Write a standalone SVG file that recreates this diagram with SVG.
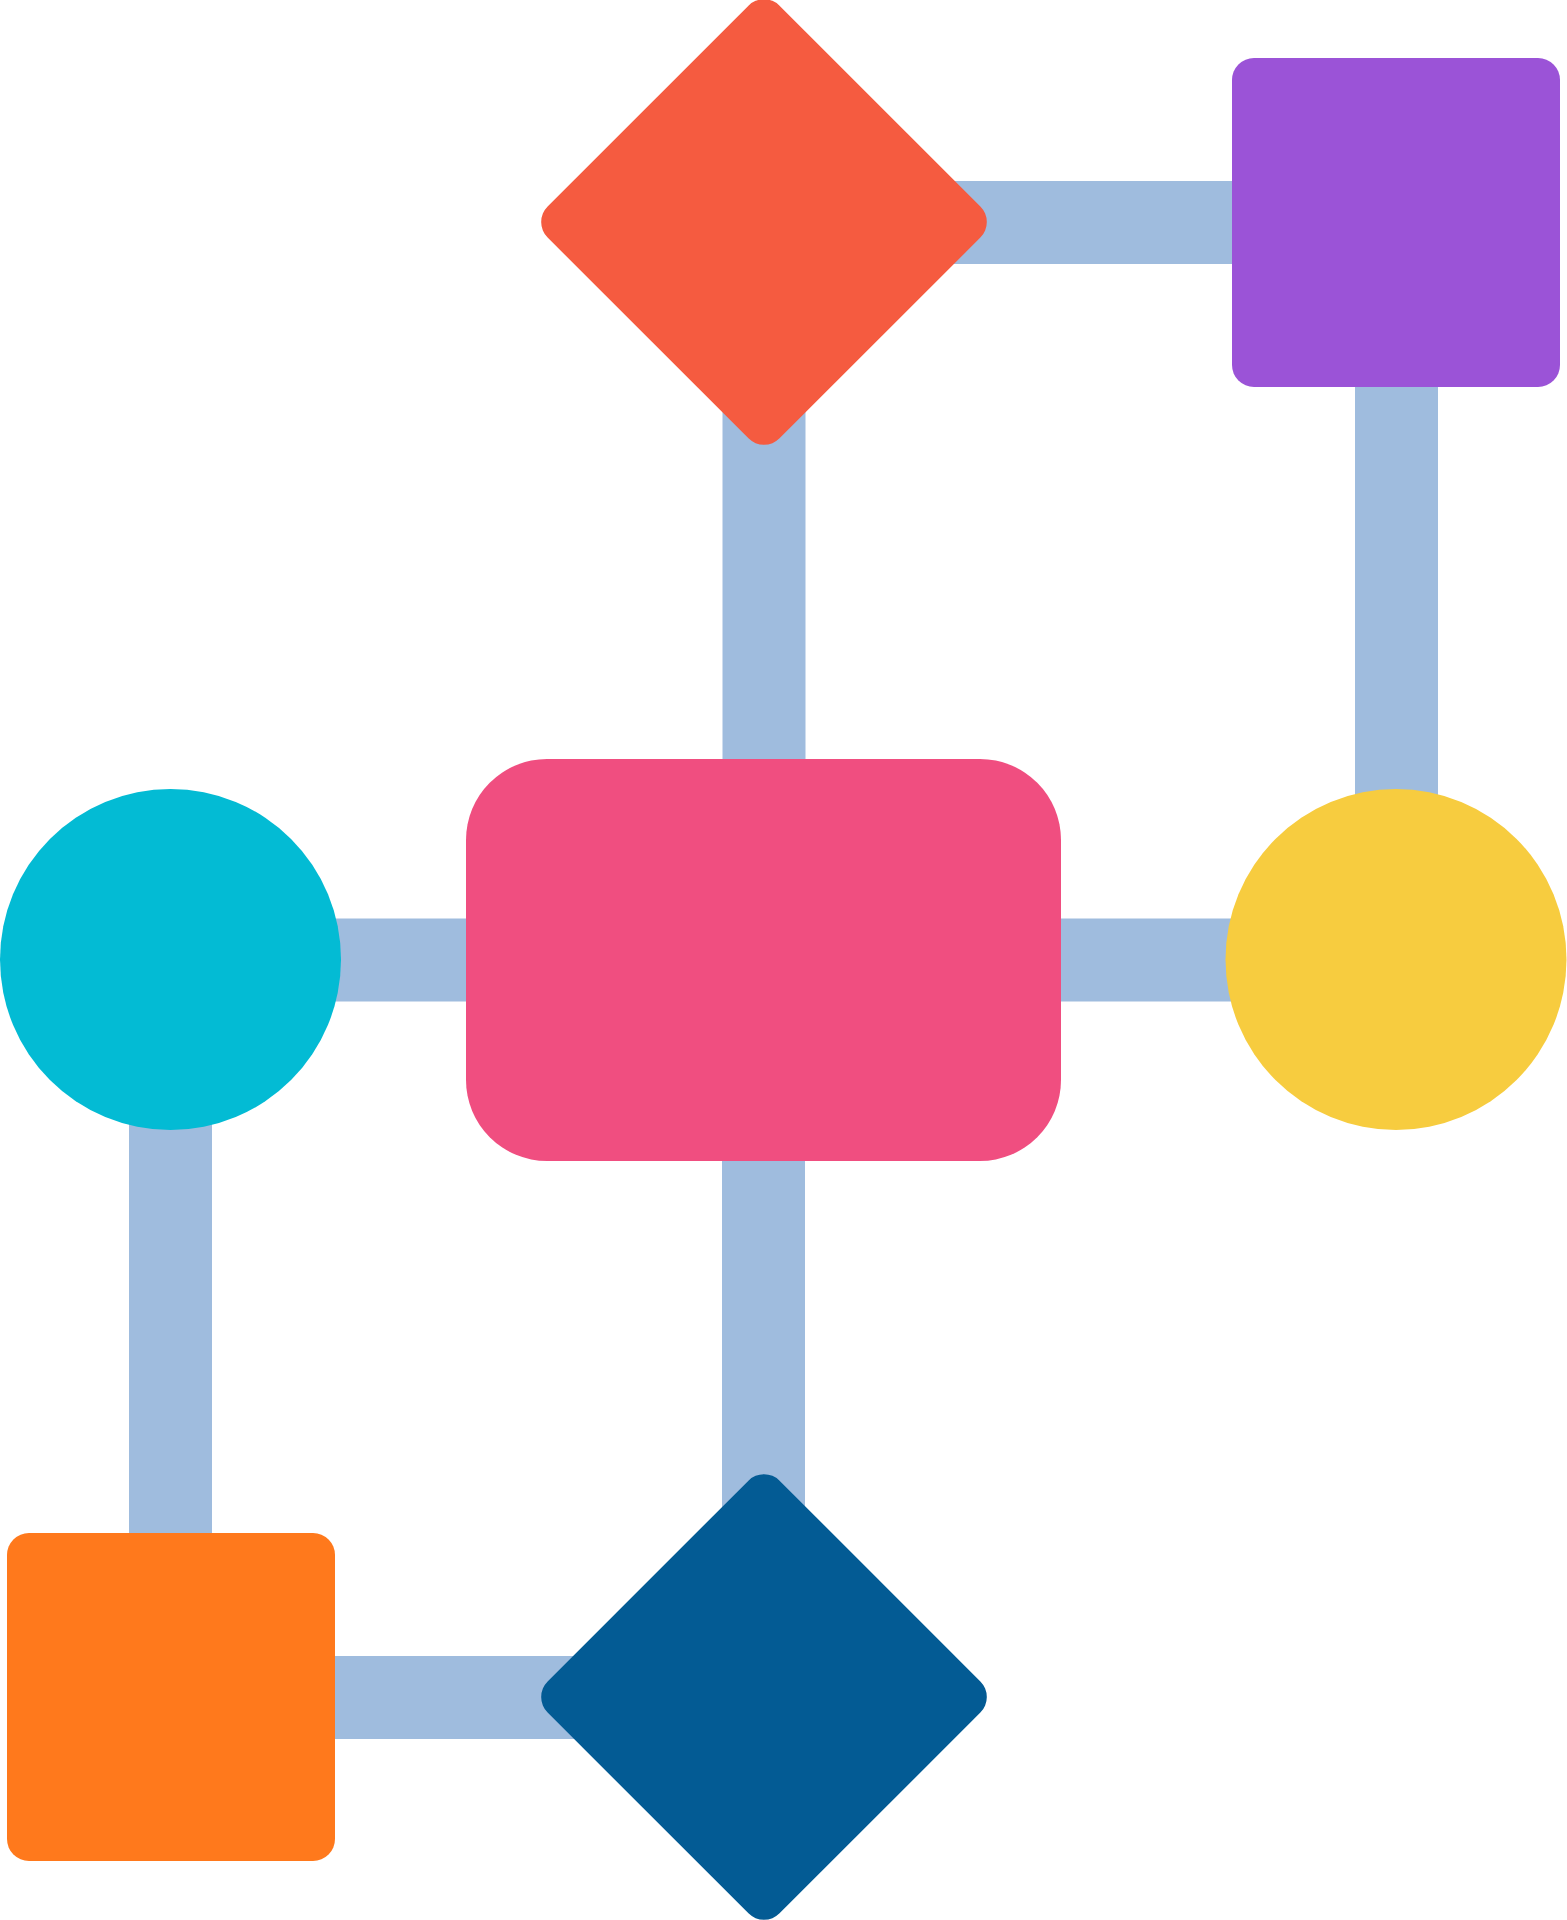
<svg xmlns="http://www.w3.org/2000/svg" width="1567" height="1920" viewBox="0 0 1567 1920">
<style>
.conn{stroke:#9FBCDE;stroke-width:83;fill:none;stroke-linecap:butt}
</style>
<rect width="1567" height="1920" fill="#FFFFFF"/>
<g id="connectors">
<line class="conn" x1="764" y1="222.5" x2="1396" y2="222.5"/>
<line class="conn" x1="1396.5" y1="222.5" x2="1396.5" y2="960"/>
<line class="conn" x1="764" y1="222" x2="764" y2="960"/>
<line class="conn" x1="170.5" y1="960" x2="1396" y2="960"/>
<line class="conn" x1="763.5" y1="960" x2="763.5" y2="1697"/>
<line class="conn" x1="170.5" y1="960" x2="170.5" y2="1697"/>
<line class="conn" x1="171" y1="1697.5" x2="764" y2="1697.5"/>
</g>
<g id="node-top-diamond">
<rect x="600" y="58" width="328" height="328" rx="22" fill="#F55B40" transform="rotate(45 764 222)"/>
</g>
<g id="node-purple-square">
<rect x="1232" y="58" width="328" height="329" rx="22" fill="#9B53D7"/>
</g>
<g id="node-cyan-circle">
<circle cx="170.5" cy="959.5" r="170.5" fill="#03BBD4"/>
</g>
<g id="node-pink-rect">
<rect x="466" y="759" width="595" height="402" rx="81" fill="#F04E80"/>
</g>
<g id="node-yellow-circle">
<circle cx="1396" cy="959.5" r="170.5" fill="#F7CC3F"/>
</g>
<g id="node-orange-square">
<rect x="7" y="1533" width="328" height="328" rx="22" fill="#FF791C"/>
</g>
<g id="node-blue-diamond">
<rect x="600" y="1533" width="328" height="328" rx="22" fill="#035B94" transform="rotate(45 764 1697)"/>
</g>
</svg>
